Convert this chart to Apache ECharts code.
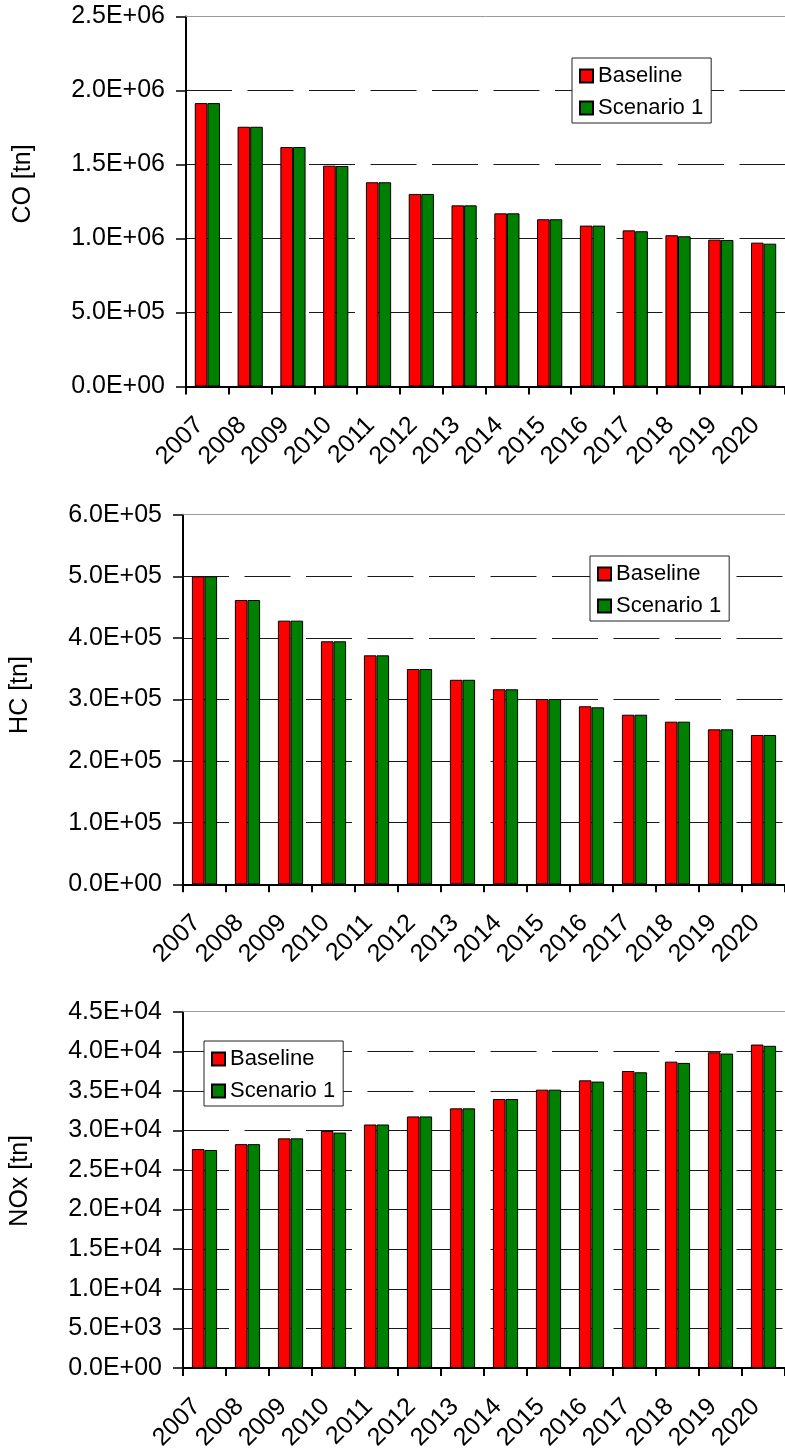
<!DOCTYPE html>
<html>
<head>
<meta charset="utf-8">
<script src="https://cdn.jsdelivr.net/npm/echarts@6/dist/echarts.min.js"></script>
<style>
  html, body { margin: 0; padding: 0; background: #fff; }
  #chart { width: 785px; height: 1453px; }
</style>
</head>
<body>
<div id="chart"></div>
<script>
// Emission projections per year, two scenarios
const years = ['2007','2008','2009','2010','2011','2012','2013','2014','2015','2016','2017','2018','2019','2020'];

const coBaseline  = [1915000,1755000,1618000,1492000,1380000,1301000,1224000,1170000,1130000,1087000,1055000,1022000,992000,972000];
const coScenario1 = [1915000,1755000,1618000,1490000,1380000,1301000,1224000,1170000,1130000,1087000,1049000,1015000,990000,965000];

const hcBaseline  = [500000,461500,428000,394500,371700,349500,332000,316600,300800,289000,275300,264000,251600,242400];
const hcScenario1 = [500000,461500,428000,394500,371700,349500,332000,316600,300800,287300,275300,264000,251600,242400];

const noxBaseline  = [27650,28270,29000,29940,30750,31770,32790,33970,35150,36330,37510,38690,39870,40850];
const noxScenario1 = [27530,28270,29000,29730,30750,31770,32790,33970,35150,36170,37350,38530,39710,40690];

// Y tick labels in engineering notation
const coTicks  = ['0.0E+00','5.0E+05','1.0E+06','1.5E+06','2.0E+06','2.5E+06'];
const hcTicks  = ['0.0E+00','1.0E+05','2.0E+05','3.0E+05','4.0E+05','5.0E+05','6.0E+05'];
const noxTicks = ['0.0E+00','5.0E+03','1.0E+04','1.5E+04','2.0E+04','2.5E+04','3.0E+04','3.5E+04','4.0E+04','4.5E+04'];

const seriesNames = ['Baseline', 'Scenario 1'];
const colors = ['#ff0000', '#008000'];

const FONT = '"Liberation Sans", Arial, Helvetica, sans-serif';

const grids = [
  { left: 186,   top: 16.5,   width: 608, height: 370 },
  { left: 179.3, top: 514.7,  width: 606, height: 369.6 },
  { left: 172.7, top: 1011.7, width: 618, height: 368.3 }
];

const panels = [
  { name: 'CO [tn]',  ticks: coTicks,  step: 500000, data: [coBaseline, coScenario1],   shift: 35,
    legend: { left: 572, top: 58 } },
  { name: 'HC [tn]',  ticks: hcTicks,  step: 100000, data: [hcBaseline, hcScenario1],   shift: 9,
    legend: { left: 590, top: 556 } },
  { name: 'NOx [tn]', ticks: noxTicks, step: 5000,   data: [noxBaseline, noxScenario1], shift: 18,
    legend: { left: 204, top: 1041 } }
];

const xAxes = [], yAxes = [], series = [], legends = [];

panels.forEach((p, i) => {
  // bottom category axis with rotated year labels
  xAxes.push({
    type: 'category', gridIndex: i, data: years, boundaryGap: true,
    axisLine: { lineStyle: { color: '#000', width: 2 } },
    axisTick: { show: true, length: 8, interval: 0, lineStyle: { color: '#000', width: 2 } },
    axisLabel: { interval: 0, rotate: 45, margin: 27, padding: [0, 11, 0, 0],
                 fontSize: 25, fontFamily: FONT, color: '#000' },
    splitLine: { show: false }
  });
  // thin grey frame line along the top of the plot
  xAxes.push({
    type: 'category', gridIndex: i, data: years, position: 'top', z: 3,
    axisLine: { lineStyle: { color: '#9a9a9a', width: 1 } },
    axisTick: { show: false }, axisLabel: { show: false }, splitLine: { show: false }
  });

  const n = p.ticks.length - 1;
  yAxes.push({
    type: 'value', gridIndex: i, min: 0, max: p.step * n, interval: p.step,
    name: p.name, nameLocation: 'middle', nameGap: 150,
    nameTextStyle: { fontSize: 25, fontFamily: FONT, color: '#000', padding: [0, 0, 0, p.shift] },
    axisLine: { show: true, lineStyle: { color: '#000', width: 2 } },
    axisTick: { show: true, length: 10, lineStyle: { color: '#000', width: 1.5 } },
    axisLabel: { margin: 21, fontSize: 25, fontFamily: FONT, color: '#000',
                 formatter: v => p.ticks[Math.round(v / p.step)] },
    splitLine: { show: true, lineStyle: { color: '#1a1a1a', width: 1, type: [46, 15.5] } }
  });

  p.data.forEach((vals, k) => {
    series.push({
      type: 'bar', name: seriesNames[k],
      xAxisIndex: i * 2, yAxisIndex: i,
      data: vals,
      barWidth: 12.6, barGap: '0%',
      itemStyle: { color: colors[k], borderColor: '#000', borderWidth: 1 },
      emphasis: { disabled: true }
    });
  });

  legends.push({
    orient: 'vertical', left: p.legend.left, top: p.legend.top,
    padding: [7, 8, 4, 7], itemWidth: 13, itemHeight: 13, itemGap: 10,
    icon: 'rect', backgroundColor: '#fff', borderColor: '#222', borderWidth: 1,
    textStyle: { fontSize: 22, fontFamily: FONT, color: '#000', lineHeight: 22 },
    data: seriesNames, selectedMode: false, z: 10
  });
});

const chart = echarts.init(document.getElementById('chart'), null, { renderer: 'canvas' });
chart.setOption({
  animation: false,
  backgroundColor: '#fff',
  grid: grids,
  xAxis: xAxes,
  yAxis: yAxes,
  legend: legends,
  series: series
});
</script>
</body>
</html>
